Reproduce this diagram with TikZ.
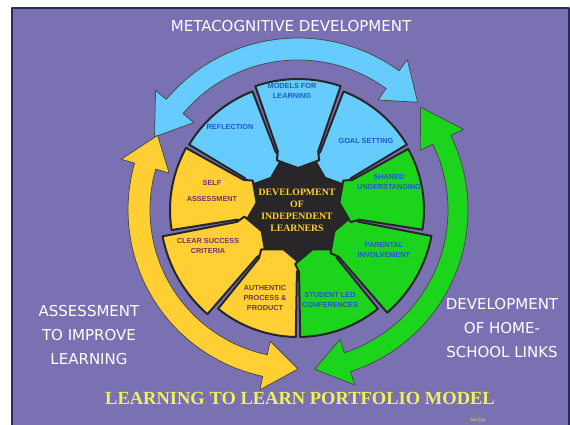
\documentclass[tikz,border=0pt]{standalone}
\usepackage{fontspec}
\setmainfont{Liberation Serif}
\setsansfont{Liberation Sans}
\newfontfamily\comicfont{DejaVu Sans}
\definecolor{bgpurple}{RGB}{122,113,178}
\definecolor{framenavy}{RGB}{40,44,90}
\definecolor{skyblue}{RGB}{102,204,255}
\definecolor{gold}{RGB}{255,207,51}
\definecolor{leaf}{RGB}{28,212,28}
\definecolor{hubgray}{RGB}{40,38,40}
\definecolor{labelblue}{RGB}{30,90,200}
\definecolor{labelplum}{RGB}{110,55,90}
\definecolor{titleyellow}{RGB}{240,240,90}
\tikzset{
  bigarrow/.style={draw=black!70, line width=0.8pt, line join=round},
  segment/.style={draw=black!85, line width=2pt, line join=round},
  whitetext/.style={text=white, align=center, font=\comicfont\fontsize{15}{24}\selectfont},
  seglabel/.style={align=center, font=\sffamily\bfseries\fontsize{7.3}{10}\selectfont}
}
\begin{document}
\begin{tikzpicture}[line cap=round,line join=round,x=1pt,y=1pt]
  \useasboundingbox (0,0) rectangle (570,424);
  % background
  \fill[white] (0,0) rectangle (570,424);
  \filldraw[fill=bgpurple, draw=framenavy, line width=1.5pt] (12,-2) rectangle (569,416);
  \begin{scope}[shift={(298,214)}]
    % three big curved arrows
    \filldraw[bigarrow, fill=skyblue] (54:172) arc[start angle=54, end angle=140, radius=172]
      -- (140:186) -- (153:161) -- (140:136) -- (140:150)
      arc[start angle=140, end angle=54, radius=150]
      -- (54:136) -- (42:161) -- (54:186) -- cycle;
    \filldraw[bigarrow, fill=gold] (164:170) arc[start angle=164, end angle=258, radius=170]
      -- (258:184) -- (270:159) -- (258:134) -- (258:148)
      arc[start angle=258, end angle=164, radius=148]
      -- (164:134) -- (152:159) -- (164:184) -- cycle;
    \filldraw[bigarrow, fill=leaf] (-72:170) arc[start angle=-72, end angle=26, radius=170]
      -- (26:184) -- (40:160) -- (26:136) -- (26:150)
      arc[start angle=26, end angle=-72, radius=150]
      -- (-72:136) -- (-84:160) -- (-72:184) -- cycle;
    % hub
    \fill[hubgray] (0,0) circle[radius=56];
    % nine segments pointing inwards
    \foreach \a/\col/\R in {110/skyblue/127, 30/skyblue/127, 70/skyblue/131,
                            150/gold/128, 190/gold/138, 230/gold/127,
                            270/leaf/127, 310/leaf/136, 350/leaf/126} {
      \pgfmathsetmacro\b{\a+40}
      \pgfmathsetmacro\m{\a+20}
      \filldraw[segment, fill=\col] ({\a+1}:\R) arc[start angle=\a+1, end angle=\b-1, radius=\R]
        -- ({\b-1}:62) -- ({\b+3}:54) -- (\m:42) -- ({\a-3}:54) -- ({\a+1}:62) -- cycle;
    }
  \end{scope}
  % segment labels
  \node[seglabel, text=labelblue] (models) at (292,333) {MODELS FOR\\LEARNING};
  \node[seglabel, text=labelblue] (reflection) at (230,297) {REFLECTION};
  \node[seglabel, text=labelblue] (goal) at (366,283) {GOAL SETTING};
  \node[seglabel, text=labelplum, font=\sffamily\bfseries\fontsize{7.3}{16}\selectfont] (self) at (212,233) {SELF\\ASSESSMENT};
  \node[seglabel, text=labelplum] (criteria) at (208,178) {CLEAR SUCCESS\\CRITERIA};
  \node[seglabel, text=labelplum] (authentic) at (265,126) {AUTHENTIC\\PROCESS \&\\PRODUCT};
  \node[seglabel, text=labelblue] (student) at (330,124) {STUDENT LED\\CONFERENCES};
  \node[seglabel, text=labelblue] (parental) at (384,174) {PARENTAL\\INVOLVEMENT};
  \node[seglabel, text=labelblue] (shared) at (389,242) {SHARED\\UNDERSTANDING};
  % hub text
  \node[text=gold, align=center, font=\bfseries\fontsize{9.8}{12}\selectfont] (hub) at (297,214)
    {DEVELOPMENT\\OF\\INDEPENDENT\\LEARNERS};
  % outer captions
  \node[whitetext] (meta) at (291,398) {METACOGNITIVE DEVELOPMENT};
  \node[whitetext] (assess) at (89,89) {ASSESSMENT\\TO IMPROVE\\LEARNING};
  \node[whitetext] (home) at (502,96) {DEVELOPMENT\\OF HOME-\\SCHOOL LINKS};
  \node[text=titleyellow, font=\bfseries\fontsize{18.5}{20}\selectfont] (title) at (300,26)
    {LEARNING TO LEARN PORTFOLIO MODEL};
  \node[text=titleyellow, font=\fontsize{5}{6}\selectfont] (author) at (478,4) {Jan Fay};
\end{tikzpicture}
\end{document}
